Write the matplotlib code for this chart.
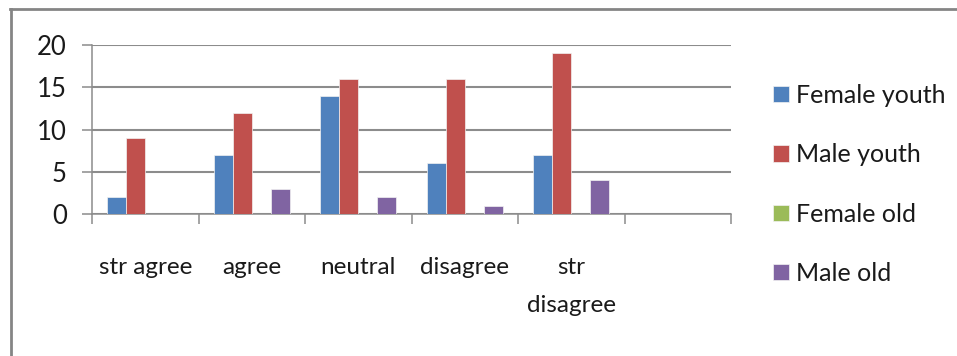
import matplotlib
matplotlib.use("Agg")
import matplotlib.pyplot as plt
import numpy as np
from matplotlib.lines import Line2D

plt.rcParams['font.family'] = ['Lato', 'DejaVu Sans']

# data
categories = ['str agree', 'agree', 'neutral', 'disagree', 'str\ndisagree', '']
series_names = ['Female youth', 'Male youth', 'Female old', 'Male old']
female_youth = [2, 7, 14, 6, 7, 0]
male_youth = [9, 12, 16, 16, 19, 0]
female_old = [0, 0, 0, 0, 0, 0]
male_old = [0, 3, 2, 1, 4, 0]
colors = ['#4F81BD', '#C0504D', '#9BBB59', '#8064A2']
grid_col = '#8c8c8c'

W, H = 957, 356
fig = plt.figure(figsize=(W / 100, H / 100), dpi=100)
ax = fig.add_axes([92 / W, (H - 214) / H, (731 - 92) / W, (214 - 45) / H])

x = np.arange(len(categories))
bw = 0.178
values = [female_youth, male_youth, female_old, male_old]
for i, (vals, name, c) in enumerate(zip(values, series_names, colors)):
    ax.bar(x + (i - 1.5) * bw, vals, width=bw, color=c, label=name,
           edgecolor='#f2f2f2', linewidth=0.5, zorder=3)

ax.set_xlim(-0.5, len(categories) - 0.5)
ax.set_ylim(0, 20)
ax.set_yticks([0, 5, 10, 15, 20])
ax.yaxis.grid(True, color=grid_col, linewidth=1.5, zorder=0)
ax.tick_params(axis='y', length=7.2, width=1.1, color=grid_col, pad=11, labelsize=18.5,
               labelcolor='#1a1a1a')

# category boundaries as ticks, labels at category centres
ax.set_xticks(np.arange(len(categories) + 1) - 0.5, minor=True)
ax.tick_params(axis='x', which='minor', length=7.2, width=1.1, color=grid_col)
ax.set_xticks(x)
ax.set_xticklabels(categories, fontsize=17.5, linespacing=2.0, va='top',
                   color='#1a1a1a')
ax.tick_params(axis='x', which='major', length=0, pad=31)

for s in ['top', 'right']:
    ax.spines[s].set_visible(False)
for s in ['left', 'bottom']:
    ax.spines[s].set_color(grid_col)
    ax.spines[s].set_linewidth(1.1)

leg = fig.legend(loc='upper left', bbox_to_anchor=(773 / W, (H - 84) / H),
                 frameon=False, fontsize=18, handlelength=0.62, handleheight=0.62,
                 handletextpad=0.3, labelspacing=1.45, borderpad=0, borderaxespad=0)
for t in leg.get_texts():
    t.set_color('#1a1a1a')

# outer chart frame (top and left edges visible)
fig.add_artist(Line2D([10 / W, 1], [(H - 8.5) / H] * 2, color='#858585', lw=2,
                      transform=fig.transFigure))
fig.add_artist(Line2D([10.5 / W] * 2, [0, (H - 8.5) / H], color='#858585', lw=2,
                      transform=fig.transFigure))

fig.savefig('out.png', dpi=100)
